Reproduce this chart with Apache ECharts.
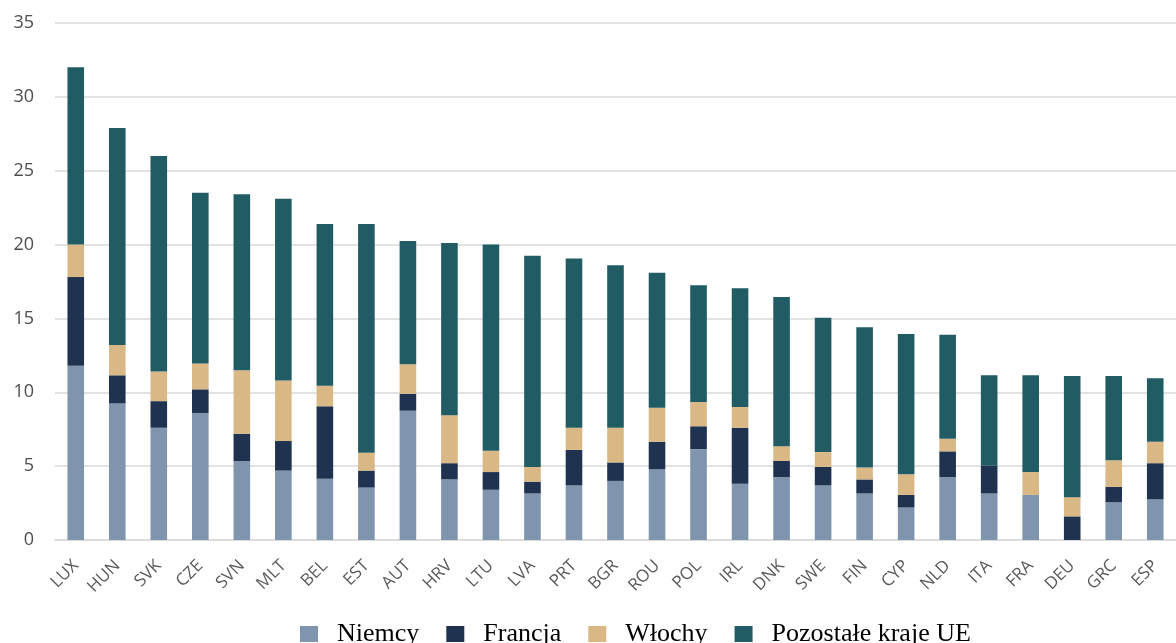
<!DOCTYPE html>
<html>
<head>
<meta charset="utf-8">
<title>Udział turystów</title>
<script src="https://cdn.jsdelivr.net/npm/echarts@6/dist/echarts.min.js"></script>
<style>
html, body { margin: 0; padding: 0; background: #fff; }
#chart { width: 1176px; height: 643px; }
</style>
</head>
<body>
<div id="chart"></div>
<script>
var kraje = ["LUX", "HUN", "SVK", "CZE", "SVN", "MLT", "BEL", "EST", "AUT", "HRV", "LTU", "LVA", "PRT", "BGR",
  "ROU", "POL", "IRL", "DNK", "SWE", "FIN", "CYP", "NLD", "ITA", "FRA", "DEU", "GRC", "ESP"]
var niemcy = [11.8, 9.25, 7.6, 8.6, 5.35, 4.7, 4.15, 3.55, 8.75, 4.1, 3.4, 3.15, 3.7, 4.0,
  4.8, 6.15, 3.8, 4.25, 3.7, 3.15, 2.2, 4.25, 3.15, 3.05, 0, 2.55, 2.75]
var francja = [6.0, 1.9, 1.8, 1.6, 1.85, 2.0, 4.9, 1.15, 1.15, 1.1, 1.2, 0.8, 2.4, 1.25,
  1.85, 1.55, 3.8, 1.1, 1.25, 0.95, 0.85, 1.75, 1.9, 0, 1.6, 1.05, 2.45]
var wlochy = [2.2, 2.05, 2.0, 1.75, 4.3, 4.1, 1.4, 1.2, 2.0, 3.25, 1.45, 1.0, 1.5, 2.35,
  2.3, 1.65, 1.4, 1.0, 1.0, 0.8, 1.4, 0.85, 0, 1.55, 1.3, 1.8, 1.45]
var pozostale = [12.0, 14.7, 14.6, 11.55, 11.9, 12.3, 10.95, 15.5, 8.35, 11.65, 13.95, 14.3, 11.45, 11.0,
  9.15, 7.9, 8.05, 10.1, 9.1, 9.5, 9.5, 7.05, 6.1, 6.55, 8.2, 5.7, 4.3]
var yTicks = ["0", "5", "10", "15", "20", "25", "30", "35"]

var nazwy = ["Niemcy", "Francja", "Włochy", "Pozostałe kraje UE"]
var kolory = ["#7f95ad", "#1f3350", "#d9b886", "#215c64"]

function seria(name, data) {
  return {
    name: name,
    type: "bar",
    stack: "suma",
    barWidth: "40%",
    data: data
  }
}

var myChart = echarts.init(document.getElementById("chart"))
var option = {
  color: kolory,
  animation: false,
  grid: {
    left: 55,
    top: 23,
    width: 1131,
    height: 517
  },
  legend: {
    data: nazwy,
    left: 295,
    top: 616,
    icon: "rect",
    itemWidth: 18,
    itemHeight: 16,
    itemGap: 27,
    textStyle: {
      fontFamily: "Liberation Serif",
      fontSize: 26,
      color: "#000",
      padding: [8, 0, 0, 14]
    }
  },
  xAxis: {
    type: "category",
    data: kraje,
    axisLine: { lineStyle: { color: "#d9d9d9", width: 1.5 } },
    axisTick: { show: false },
    axisLabel: {
      rotate: 45,
      margin: 23,
      fontFamily: "Open Sans",
      fontSize: 17,
      color: "#595959"
    }
  },
  yAxis: {
    type: "value",
    min: 0,
    max: 35,
    interval: 5,
    axisLine: { show: false },
    axisTick: { show: false },
    splitLine: { lineStyle: { color: "#d9d9d9", width: 1.5 } },
    axisLabel: {
      margin: 21,
      fontFamily: "Open Sans",
      fontSize: 18,
      color: "#4d4d4d",
      formatter: function (v) { return yTicks[v / 5] }
    }
  },
  series: [
    seria(nazwy[0], niemcy),
    seria(nazwy[1], francja),
    seria(nazwy[2], wlochy),
    seria(nazwy[3], pozostale)
  ]
}
myChart.setOption(option)
window.addEventListener("resize", function () {
  myChart.resize()
})
</script>
</body>
</html>
